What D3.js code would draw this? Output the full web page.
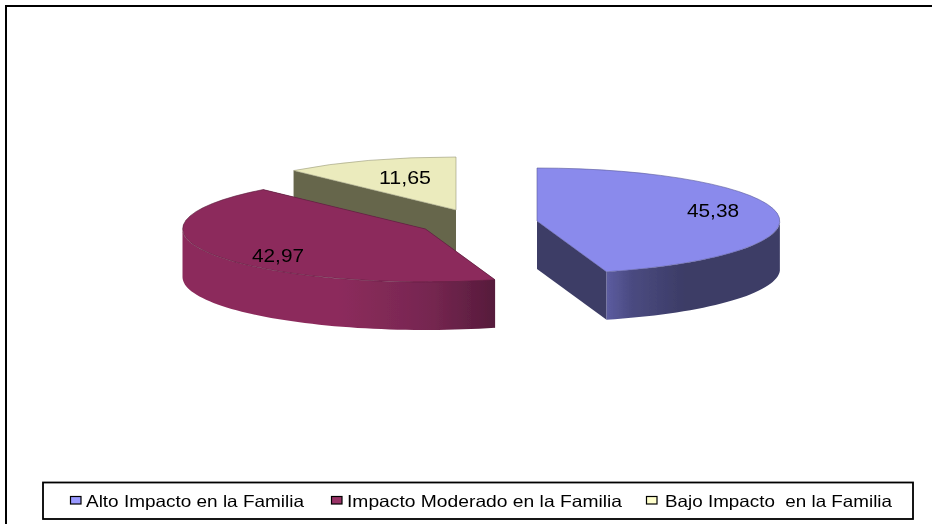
<!DOCTYPE html>
<html><head><meta charset="utf-8">
<script src="https://cdn.jsdelivr.net/npm/d3@7"></script>
<style>html,body{margin:0;padding:0;background:#fff}svg{display:block}</style></head>
<body><div id="chart"></div>
<script>
const categories = ["Alto Impacto en la Familia", "Impacto Moderado en la Familia", "Bajo Impacto  en la Familia"];
const values = [45.38, 42.97, 11.65];
const labels = ["45,38", "42,97", "11,65"];
const topColors = ["#8a8aec", "#8c2c5c", "#ebebbd"];
const wallColors = ["#3c3c66", "#6b2348", "#66664c"];
const rimStops = [["#5c5ca0","#4a4a80","#3c3c66","#3c3c66"],["#8c2c5c","#8c2c5c","#752650","#561b3b"],["#66664c","#66664c","#66664c","#66664c"]];
const legendSwatches = ["#9999ff", "#993366", "#ffffcc"];
const centers = [[537,221],[425.5,229],[456,210]];
const labelPos = [[713,217],[278,262],[405,184]];
const legendX = [86, 347, 665];
const legendEnd = [304, 622, 892];
const legendSwatchX = [71, 332, 647];

const W = 932, H = 524, RX = 243, RY = 53, DEPTH = 48;
const svg = d3.select("#chart").append("svg").attr("width", W).attr("height", H);
const defs = svg.append("defs");
defs.append("filter").attr("id","soft").attr("filterUnits","userSpaceOnUse")
  .attr("x",0).attr("y",0).attr("width",W).attr("height",H)
  .append("feGaussianBlur").attr("stdDeviation",0.45);
const root = svg.append("g").attr("filter","url(#soft)");
root.append("rect").attr("width",W).attr("height",H).attr("fill","#fff");
const line = d3.line();
root.append("path").attr("d",line([[6,H],[6,6],[W,6]])).attr("fill","none").attr("stroke","#000").attr("stroke-width",2);

const pie = d3.pie().sort(null).startAngle(0).endAngle(2*Math.PI);
const arcs = pie(values);
const arcGen = d3.arc().innerRadius(0).outerRadius(1);
const project = (c,t,dy=0)=>[c[0]+RX*Math.sin(t), c[1]-RY*Math.cos(t)+dy];
const samples = (a,b)=>{const n=80;return d3.range(n+1).map(i=>a+(b-a)*i/n);};

[2,1,0].forEach(i=>{
  const a = arcs[i], c = centers[i];
  const g = root.append("g");
  const id = "rim"+i;
  const ts = samples(a.startAngle,a.endAngle);
  const xs = ts.map(t=>project(c,t)[0]);
  const lg = defs.append("linearGradient").attr("id",id).attr("gradientUnits","userSpaceOnUse")
    .attr("x1",i===0?c[0]+RX*Math.sin(a.endAngle):d3.min(xs)).attr("x2",d3.max(xs)).attr("y1",0).attr("y2",0);
  const offs = i===0?[0,.15,.45,1]:[0,.5,.8,1];
  rimStops[i].forEach((s,k)=>lg.append("stop").attr("offset",offs[k]).attr("stop-color",s));
  [a.startAngle,a.endAngle].forEach(t=>{
    const p=project(c,t);
    g.append("path").attr("d",line([c,p,[p[0],p[1]+DEPTH],[c[0],c[1]+DEPTH]])+"Z").attr("fill",wallColors[i]);
  });
  const vis = ts.filter(t=>Math.cos(t)<=0);
  if(vis.length>1){
    const rim = vis.map(t=>project(c,t)).concat(vis.slice().reverse().map(t=>project(c,t,DEPTH)));
    g.append("path").attr("d",line(rim)+"Z").attr("fill",`url(#${id})`);
  }
  g.append("path").attr("d",arcGen(a)).attr("transform",`translate(${c[0]},${c[1]}) scale(${RX},${RY})`)
    .attr("fill",topColors[i]).attr("stroke",d3.color(topColors[i]).darker(1.2)).attr("stroke-width",.6).attr("vector-effect","non-scaling-stroke");
});
values.forEach((v,i)=>{
  root.append("text").attr("x",labelPos[i][0]-26).attr("y",labelPos[i][1])
   .attr("font-family","Liberation Sans").attr("font-size",18).attr("fill","#000")
   .attr("textLength",52).attr("lengthAdjust","spacingAndGlyphs").text(labels[i]);
});
root.append("rect").attr("x",43).attr("y",482.5).attr("width",870).attr("height",36.5).attr("fill","#fff").attr("stroke","#000").attr("stroke-width",1.8);
categories.forEach((c,i)=>{
  root.append("rect").attr("x",legendSwatchX[i]-.5).attr("y",496.5).attr("width",10.5).attr("height",7.5).attr("fill",legendSwatches[i]).attr("stroke","#000").attr("stroke-width",1.2);
  root.append("text").attr("x",legendX[i]).attr("y",507).attr("font-family","Liberation Sans").attr("font-size",16.5).attr("fill","#000")
    .style("white-space","pre").attr("textLength",legendEnd[i]-legendX[i]).attr("lengthAdjust","spacingAndGlyphs").text(c);
});
</script></body></html>
